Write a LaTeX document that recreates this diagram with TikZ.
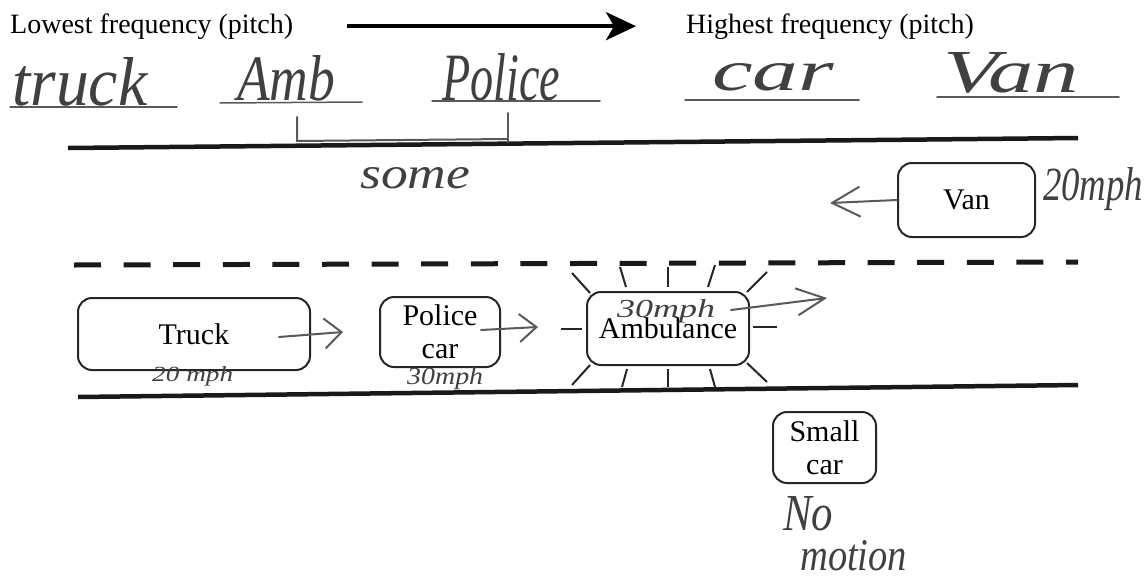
\documentclass[tikz,border=0pt]{standalone}
\usepackage{fontspec}
\setmainfont{Liberation Serif}
\usepackage{graphicx}
\usetikzlibrary{arrows.meta, calc}

% handwritten words, squeezed into a measured box
\newcommand{\scrawl}[3]{\resizebox{#1pt}{#2pt}{\itshape #3}}

\begin{document}
\begin{tikzpicture}[>=stealth, x=1pt, y=-1pt,
  vehicle/.style={draw=black!85, line width=2pt, rounded corners=14pt, align=center,
    font=\fontsize{30}{33}\selectfont, inner sep=0pt},
  road/.style={line width=4.5pt, black!90},
  pencil/.style={black!65, line width=2pt, line cap=round, line join=round},
  note/.style={black!75, inner sep=0pt, anchor=base west},
  ray/.style={line width=2pt, black!85},
  heading/.style={font=\fontsize{28}{30}\selectfont, inner sep=0pt, anchor=base west}]
  \useasboundingbox (0,0) rectangle (1148,581);

  % pitch scale
  \node[heading] (low) at (10,33) {Lowest frequency (pitch)};
  \node[heading] (high) at (686,33) {Highest frequency (pitch)};
  \draw[line width=4pt, -{Stealth[length=30pt,width=28pt,inset=8pt]}]
       ([xshift=54pt]low.east) -- ([xshift=-50pt]high.west);

  % ranking written in by hand
  \node[note] (rank1) at (12,105) {\scrawl{135}{48}{truck}};
  \node[note] (rank2) at (237,100) {\scrawl{98}{45}{Amb}};
  \node[note] (rank3) at (442,100) {\scrawl{118}{47}{Police}};
  \node[note] (rank4) at (712,90) {\scrawl{122}{27}{car}};
  \node[note] (rank5) at (943,92) {\scrawl{136}{40}{Van}};
  \foreach \xa/\ya/\xb/\yb in {10/107/177/107, 220/103/362/102, 432/101/600/101,
                               685/100/859/100, 937/97/1119/97}
    \draw[pencil, line width=1.5pt] (\xa,\ya) -- (\xb,\yb);

  % road edges and centre line
  \draw[road] (68,148) -- (1078,138);
  \draw[road, line width=5pt, dash pattern=on 27pt off 22.6pt] (74,265) -- (1078,262);
  \draw[road] (78,397) -- (1078,385);

  % "some" bracket
  \draw[pencil] (297,117) -- (297,141) -- (508,139);
  \draw[pencil] (508,113) -- (508,142);
  \node[note] (some) at (360,188) {\scrawl{110}{21}{some}};

  % vehicles
  \node[vehicle, minimum width=137pt, minimum height=74pt] (van) at (966.5,200) {Van};
  \node[vehicle, minimum width=232pt, minimum height=72pt] (truck) at (194,334) {Truck};
  \node[vehicle, minimum width=120pt, minimum height=70pt] (police) at (440,332) {Police\\car};
  \node[vehicle, minimum width=162pt, minimum height=73pt] (amb) at (668,328.5) {Ambulance};
  \node[vehicle, minimum width=103pt, minimum height=71pt] (small) at (824.5,447.5) {Small\\car};

  % siren rays round the ambulance
  \foreach \xa/\ya/\xb/\yb in {572/273/590/293, 620/267/626/287, 668/267/668/287,
                               715/265/708/287, 767/272/747/292, 753/327/777/327,
                               747/363/767/382, 710/369/715/387, 668/369/668/387,
                               627/369/622/387, 590/365/572/385, 561/329/582/329}
    \draw[ray] (\xa,\ya) -- (\xb,\yb);

  % directions of travel
  \coordinate (vango) at (830,203);
  \coordinate (truckgo) at (343,332);
  \coordinate (policego) at (538,327);
  \coordinate (ambgo) at (827,298);
  \draw[pencil, -{Straight Barb[length=28pt,width=30pt]}] (van.west) -- (vango);
  \draw[pencil, -{Straight Barb[length=17pt,width=30pt]}]
       ([xshift=-32pt,yshift=-3pt]truck.east) -- (truckgo);
  \draw[pencil, -{Straight Barb[length=17pt,width=28pt]}]
       ([xshift=-20pt,yshift=2pt]police.east) -- (policego);
  \draw[pencil, -{Straight Barb[length=28pt,width=27pt]}]
       ([xshift=-19pt,yshift=18.5pt]amb.east) -- (ambgo);

  % speeds
  \node[note] (vanspeed) at (1043,200) {\scrawl{100}{33}{20mph}};
  \node[note] (truckspeed) at (152,381) {\scrawl{81}{15}{20 mph}};
  \node[note] (policespeed) at (407,384) {\scrawl{76}{17}{30mph}};
  \node[note] (ambspeed) at (617,317) {\scrawl{98}{18}{30mph}};
  \node[note] (still1) at (783,530) {\scrawl{50}{34}{No}};
  \node[note] (still2) at (800,570) {\scrawl{107}{30}{motion}};
\end{tikzpicture}
\end{document}
